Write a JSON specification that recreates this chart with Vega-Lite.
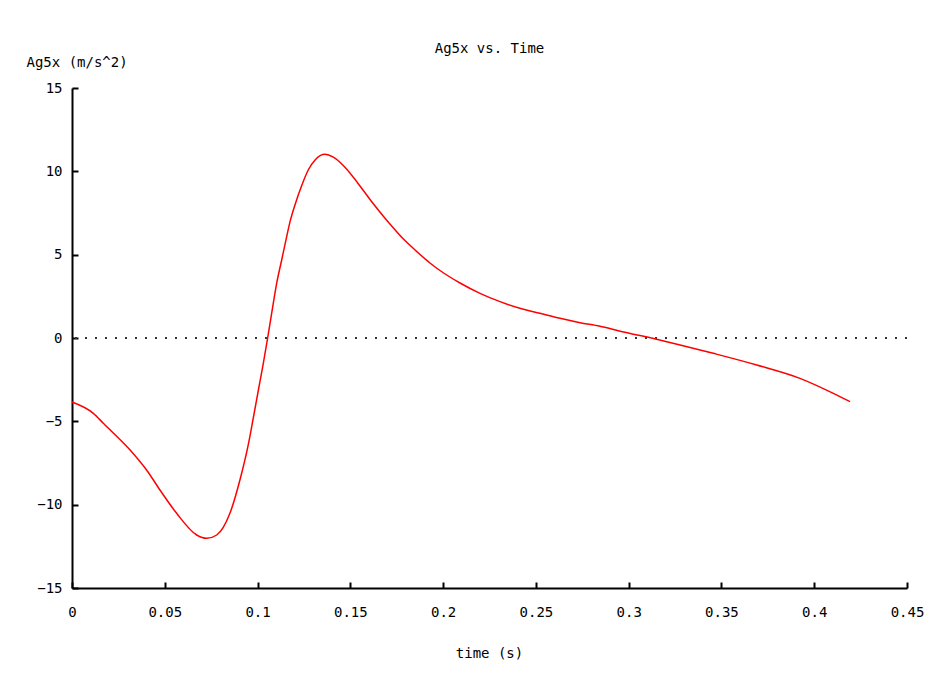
{
  "$schema": "https://vega.github.io/schema/vega-lite/v6.json",
  "autosize": {"type": "none"},
  "width": 835,
  "height": 500,
  "padding": {"left": 72, "top": 88, "right": 33, "bottom": 85},
  "background": "white",
  "config": {
    "view": {"stroke": null},
    "font": "DejaVu Sans Mono",
    "axis": {"grid": false, "domainColor": "black", "domainWidth": 2, "tickColor": "black", "tickWidth": 2, "labelColor": "black", "titleColor": "black", "labelFont": "DejaVu Sans Mono", "titleFont": "DejaVu Sans Mono", "labelFontSize": 14, "titleFontSize": 14, "titleFontWeight": "normal"}
  },
  "title": {"text": "Ag5x vs. Time", "font": "DejaVu Sans Mono", "fontSize": 14, "fontWeight": "normal", "color": "black", "anchor": "middle", "baseline": "middle", "offset": -8},
  "data": {"values": [
    {"t": 0, "a": -3.84},
    {"t": 0.0115, "a": -4.52},
    {"t": 0.0169, "a": -5.12},
    {"t": 0.0313, "a": -6.72},
    {"t": 0.0402, "a": -7.92},
    {"t": 0.0474, "a": -9.12},
    {"t": 0.0564, "a": -10.52},
    {"t": 0.0672, "a": -11.82},
    {"t": 0.0726, "a": -12.02},
    {"t": 0.078, "a": -11.82},
    {"t": 0.0851, "a": -10.52},
    {"t": 0.0905, "a": -8.52},
    {"t": 0.095, "a": -6.4},
    {"t": 0.0977, "a": -4.8},
    {"t": 0.1004, "a": -3.15},
    {"t": 0.1031, "a": -1.52},
    {"t": 0.1054, "a": -0.02},
    {"t": 0.1076, "a": 1.48},
    {"t": 0.1103, "a": 3.28},
    {"t": 0.113, "a": 4.68},
    {"t": 0.1157, "a": 6.08},
    {"t": 0.1175, "a": 6.98},
    {"t": 0.1202, "a": 8.0},
    {"t": 0.1238, "a": 9.15},
    {"t": 0.1273, "a": 10.08},
    {"t": 0.131, "a": 10.68},
    {"t": 0.1363, "a": 11.02},
    {"t": 0.1408, "a": 10.85},
    {"t": 0.1462, "a": 10.35},
    {"t": 0.1516, "a": 9.65},
    {"t": 0.157, "a": 8.85},
    {"t": 0.1624, "a": 8.05},
    {"t": 0.1678, "a": 7.3},
    {"t": 0.1732, "a": 6.6},
    {"t": 0.1785, "a": 5.95},
    {"t": 0.1857, "a": 5.2},
    {"t": 0.1929, "a": 4.5},
    {"t": 0.1983, "a": 4.05},
    {"t": 0.2091, "a": 3.3},
    {"t": 0.2199, "a": 2.68},
    {"t": 0.2307, "a": 2.18},
    {"t": 0.2414, "a": 1.78},
    {"t": 0.2522, "a": 1.48},
    {"t": 0.263, "a": 1.18},
    {"t": 0.2738, "a": 0.92},
    {"t": 0.2845, "a": 0.7},
    {"t": 0.2944, "a": 0.44},
    {"t": 0.3205, "a": -0.22},
    {"t": 0.3456, "a": -0.92},
    {"t": 0.369, "a": -1.62},
    {"t": 0.3923, "a": -2.42},
    {"t": 0.4103, "a": -3.32},
    {"t": 0.4193, "a": -3.82}
  ]},
  "layer": [
    {
      "mark": {"type": "rule", "color": "#333333", "strokeWidth": 1.5, "strokeDash": [1.5, 8.5]},
      "encoding": {"y": {"datum": 0, "type": "quantitative"}}
    },
    {
      "mark": {"type": "line", "color": "#ff0000", "strokeWidth": 1.5, "interpolate": "monotone"},
      "encoding": {
        "x": {"field": "t", "type": "quantitative", "scale": {"domain": [0, 0.45], "nice": false, "zero": false},
          "axis": {"values": [0, 0.05, 0.1, 0.15, 0.2, 0.25, 0.3, 0.35, 0.4, 0.45], "format": "~g", "tickSize": -6, "labelPadding": 23, "labelBaseline": "top", "title": "time (s)", "titleX": 417, "titleY": 65, "titleBaseline": "middle", "titleAlign": "center", "labelFlush": false}},
        "y": {"field": "a", "type": "quantitative", "scale": {"domain": [-15, 15], "nice": false, "zero": false},
          "axis": {"values": [-15, -10, -5, 0, 5, 10, 15], "tickSize": -6, "labelPadding": 16, "labelAlign": "right", "labelBaseline": "middle", "title": "Ag5x (m/s^2)", "titleAngle": 0, "titleX": -46, "titleY": -26, "titleAlign": "left", "titleBaseline": "middle", "labelFlush": false}}
      }
    }
  ]
}
